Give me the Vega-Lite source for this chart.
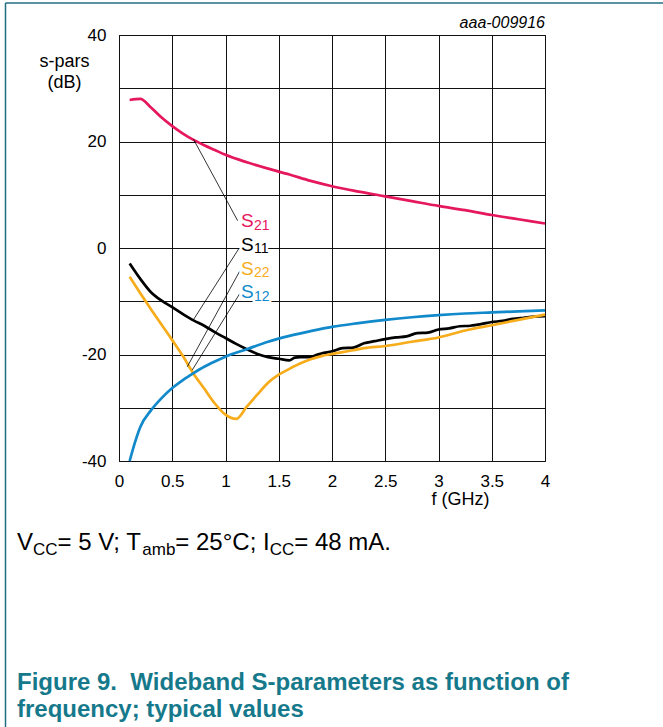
{
  "$schema": "https://vega.github.io/schema/vega-lite/v6.json",
  "width": 426,
  "height": 426,
  "autosize": {"type": "none"},
  "padding": {"left": 119, "top": 35, "right": 118, "bottom": 266},
  "background": "white",
  "config": {"font": "Liberation Sans", "view": {"stroke": "#111", "strokeWidth": 1}},
  "title": {
    "text": ["Figure 9.\u00a0 Wideband S-parameters as function of", "frequency; typical values"],
    "orient": "bottom",
    "anchor": "start",
    "frame": "group",
    "dx": -102,
    "offset": -38,
    "baseline": "alphabetic",
    "fontSize": 24,
    "fontWeight": "bold",
    "color": "#16798b",
    "lineHeight": 27
  },
  "datasets": {
    "curves": [
      {"series": "S21", "f": 0.1, "dB": 27.8}, {"series": "S21", "f": 0.2, "dB": 28.0}, {"series": "S21", "f": 0.3, "dB": 26.4},
      {"series": "S21", "f": 0.4, "dB": 24.5}, {"series": "S21", "f": 0.5, "dB": 22.9}, {"series": "S21", "f": 0.6, "dB": 21.5},
      {"series": "S21", "f": 0.7, "dB": 20.3}, {"series": "S21", "f": 0.8, "dB": 19.3}, {"series": "S21", "f": 0.9, "dB": 18.4},
      {"series": "S21", "f": 1.0, "dB": 17.5}, {"series": "S21", "f": 1.2, "dB": 16.1}, {"series": "S21", "f": 1.4, "dB": 14.9},
      {"series": "S21", "f": 1.6, "dB": 13.8}, {"series": "S21", "f": 1.8, "dB": 12.6}, {"series": "S21", "f": 2.0, "dB": 11.6},
      {"series": "S21", "f": 2.25, "dB": 10.6}, {"series": "S21", "f": 2.5, "dB": 9.7}, {"series": "S21", "f": 2.75, "dB": 8.8},
      {"series": "S21", "f": 3.0, "dB": 7.9}, {"series": "S21", "f": 3.25, "dB": 7.1}, {"series": "S21", "f": 3.5, "dB": 6.2},
      {"series": "S21", "f": 3.75, "dB": 5.4}, {"series": "S21", "f": 4.0, "dB": 4.6},

      {"series": "S11", "f": 0.1, "dB": -2.9}, {"series": "S11", "f": 0.2, "dB": -5.8}, {"series": "S11", "f": 0.3, "dB": -8.3},
      {"series": "S11", "f": 0.4, "dB": -9.9}, {"series": "S11", "f": 0.5, "dB": -11.1}, {"series": "S11", "f": 0.6, "dB": -12.4},
      {"series": "S11", "f": 0.7, "dB": -13.6}, {"series": "S11", "f": 0.8, "dB": -14.6}, {"series": "S11", "f": 0.9, "dB": -15.8},
      {"series": "S11", "f": 1.0, "dB": -16.9}, {"series": "S11", "f": 1.1, "dB": -18.0}, {"series": "S11", "f": 1.2, "dB": -19.0},
      {"series": "S11", "f": 1.3, "dB": -19.9}, {"series": "S11", "f": 1.4, "dB": -20.5}, {"series": "S11", "f": 1.5, "dB": -20.8},
      {"series": "S11", "f": 1.6, "dB": -21.1}, {"series": "S11", "f": 1.65, "dB": -20.6}, {"series": "S11", "f": 1.7, "dB": -20.5},
      {"series": "S11", "f": 1.8, "dB": -20.5}, {"series": "S11", "f": 1.85, "dB": -20.1}, {"series": "S11", "f": 1.9, "dB": -19.8},
      {"series": "S11", "f": 2.0, "dB": -19.4}, {"series": "S11", "f": 2.1, "dB": -18.8}, {"series": "S11", "f": 2.2, "dB": -18.7},
      {"series": "S11", "f": 2.3, "dB": -17.9}, {"series": "S11", "f": 2.4, "dB": -17.5}, {"series": "S11", "f": 2.5, "dB": -17.1},
      {"series": "S11", "f": 2.6, "dB": -16.8}, {"series": "S11", "f": 2.7, "dB": -16.6}, {"series": "S11", "f": 2.8, "dB": -16.0},
      {"series": "S11", "f": 2.9, "dB": -15.9}, {"series": "S11", "f": 3.0, "dB": -15.3}, {"series": "S11", "f": 3.1, "dB": -15.1},
      {"series": "S11", "f": 3.2, "dB": -14.7}, {"series": "S11", "f": 3.3, "dB": -14.6}, {"series": "S11", "f": 3.4, "dB": -14.3},
      {"series": "S11", "f": 3.5, "dB": -13.9}, {"series": "S11", "f": 3.6, "dB": -13.7}, {"series": "S11", "f": 3.7, "dB": -13.3},
      {"series": "S11", "f": 3.8, "dB": -13.1}, {"series": "S11", "f": 3.9, "dB": -12.9}, {"series": "S11", "f": 4.0, "dB": -12.8},

      {"series": "S22", "f": 0.1, "dB": -5.4}, {"series": "S22", "f": 0.2, "dB": -8.5}, {"series": "S22", "f": 0.3, "dB": -11.5},
      {"series": "S22", "f": 0.4, "dB": -14.4}, {"series": "S22", "f": 0.5, "dB": -17.3}, {"series": "S22", "f": 0.6, "dB": -20.3},
      {"series": "S22", "f": 0.7, "dB": -23.6}, {"series": "S22", "f": 0.8, "dB": -26.4}, {"series": "S22", "f": 0.9, "dB": -29.2},
      {"series": "S22", "f": 1.0, "dB": -31.3}, {"series": "S22", "f": 1.1, "dB": -32.1}, {"series": "S22", "f": 1.2, "dB": -29.8},
      {"series": "S22", "f": 1.3, "dB": -27.5}, {"series": "S22", "f": 1.4, "dB": -25.3}, {"series": "S22", "f": 1.5, "dB": -23.8},
      {"series": "S22", "f": 1.6, "dB": -22.7}, {"series": "S22", "f": 1.7, "dB": -21.7}, {"series": "S22", "f": 1.8, "dB": -20.9},
      {"series": "S22", "f": 1.9, "dB": -20.3}, {"series": "S22", "f": 2.0, "dB": -19.9}, {"series": "S22", "f": 2.2, "dB": -19.2},
      {"series": "S22", "f": 2.3, "dB": -18.8}, {"series": "S22", "f": 2.5, "dB": -18.4}, {"series": "S22", "f": 2.75, "dB": -17.6},
      {"series": "S22", "f": 3.0, "dB": -16.8}, {"series": "S22", "f": 3.25, "dB": -15.5}, {"series": "S22", "f": 3.5, "dB": -14.5},
      {"series": "S22", "f": 3.75, "dB": -13.5}, {"series": "S22", "f": 4.0, "dB": -12.5},

      {"series": "S12", "f": 0.1, "dB": -40.0}, {"series": "S12", "f": 0.15, "dB": -36.5}, {"series": "S12", "f": 0.2, "dB": -33.6},
      {"series": "S12", "f": 0.3, "dB": -30.5}, {"series": "S12", "f": 0.4, "dB": -28.2}, {"series": "S12", "f": 0.5, "dB": -26.3},
      {"series": "S12", "f": 0.6, "dB": -24.8}, {"series": "S12", "f": 0.7, "dB": -23.5}, {"series": "S12", "f": 0.8, "dB": -22.3},
      {"series": "S12", "f": 0.9, "dB": -21.3}, {"series": "S12", "f": 1.0, "dB": -20.4}, {"series": "S12", "f": 1.2, "dB": -19.0},
      {"series": "S12", "f": 1.4, "dB": -17.6}, {"series": "S12", "f": 1.6, "dB": -16.5}, {"series": "S12", "f": 1.8, "dB": -15.6},
      {"series": "S12", "f": 2.0, "dB": -14.8}, {"series": "S12", "f": 2.25, "dB": -14.1}, {"series": "S12", "f": 2.5, "dB": -13.5},
      {"series": "S12", "f": 2.75, "dB": -13.0}, {"series": "S12", "f": 3.0, "dB": -12.6}, {"series": "S12", "f": 3.25, "dB": -12.3},
      {"series": "S12", "f": 3.5, "dB": -12.1}, {"series": "S12", "f": 3.75, "dB": -11.9}, {"series": "S12", "f": 4.0, "dB": -11.7}
    ],
    "leaders": [
      {"series": "S21", "f": 0.70, "dB": 20.4, "f2": 1.114, "dB2": 5.13},
      {"series": "S11", "f": 0.698, "dB": -13.5, "f2": 1.127, "dB2": -0.06},
      {"series": "S22", "f": 0.641, "dB": -22.3, "f2": 1.136, "dB2": -4.26},
      {"series": "S12", "f": 0.688, "dB": -22.9, "f2": 1.136, "dB2": -8.5}
    ],
    "labels": [
      {"series": "S21", "sub": "21", "f": 1.1455, "dB": 3.89},
      {"series": "S11", "sub": "11", "f": 1.1455, "dB": -0.56},
      {"series": "S22", "sub": "22", "f": 1.1455, "dB": -5.07},
      {"series": "S12", "sub": "12", "f": 1.1455, "dB": -9.45}
    ],
    "capMain": [
      {"t": "V", "f": -0.9577, "dB": -56.71},
      {"t": "= 5 V; T", "f": -0.5770, "dB": -56.71},
      {"t": "= 25°C; I", "f": 0.5290, "dB": -56.71},
      {"t": "= 48 mA.", "f": 1.6452, "dB": -56.71}
    ],
    "capSub": [
      {"t": "CC", "f": -0.8075, "dB": -57.65},
      {"t": "amb", "f": 0.2185, "dB": -57.65},
      {"t": "CC", "f": 1.4147, "dB": -57.65}
    ],
    "tag": [{"t": "aaa-009916", "f": 4.0, "dB": 41.26}],
    "one": [{}]
  },
  "layer": [
    {
      "data": {"name": "curves"},
      "mark": {"type": "line", "strokeWidth": 2.7, "interpolate": "monotone"},
      "encoding": {
        "x": {
          "field": "f", "type": "quantitative",
          "scale": {"domain": [0, 4], "nice": false, "zero": false},
          "axis": {
            "title": "f (GHz)",
            "values": [0, 0.5, 1, 1.5, 2, 2.5, 3, 3.5, 4],
            "labelExpr": "'' + datum.value",
            "labelFlush": false,
            "labelBaseline": "alphabetic",
            "labelPadding": 25,
            "labelFontSize": 17,
            "labelColor": "#000",
            "ticks": false, "tickSize": 0, "domain": false,
            "grid": true, "gridColor": "#111", "gridOpacity": 1, "gridWidth": 1,
            "titleX": 341, "titleY": 43, "titleAlign": "center", "titleBaseline": "alphabetic",
            "titleFontSize": 18, "titleFontWeight": "normal", "titleColor": "#000"
          }
        },
        "y": {
          "field": "dB", "type": "quantitative",
          "scale": {"domain": [-40, 40], "nice": false, "zero": false},
          "axis": {
            "title": ["s-pars", "(dB)"],
            "values": [-40, -35, -30, -25, -20, -15, -10, -5, 0, 5, 10, 15, 20, 25, 30, 35, 40],
            "labelExpr": "datum.value % 20 === 0 ? '' + datum.value : ''",
            "labelFontSize": 17,
            "labelColor": "#000",
            "labelPadding": 13,
            "ticks": false, "tickSize": 0, "domain": false,
            "grid": true, "gridColor": "#111", "gridOpacity": 1, "gridWidth": 1,
            "titleAngle": 0, "titleAlign": "center", "titleBaseline": "alphabetic",
            "titleX": -55, "titleY": 31, "titleFontSize": 18, "titleFontWeight": "normal",
            "titleColor": "#000", "titleLineHeight": 21
          }
        },
        "color": {
          "field": "series", "type": "nominal",
          "scale": {"domain": ["S21", "S11", "S22", "S12"], "range": ["#e5185d", "#000000", "#f6ac1b", "#1189ca"]},
          "legend": null
        }
      }
    },
    {
      "data": {"name": "leaders"},
      "mark": {"type": "rule", "color": "#000", "strokeWidth": 0.8},
      "encoding": {
        "x": {"field": "f", "type": "quantitative"},
        "y": {"field": "dB", "type": "quantitative"},
        "x2": {"field": "f2"},
        "y2": {"field": "dB2"}
      }
    },
    {
      "data": {"name": "labels"},
      "mark": {"type": "text", "text": "S", "align": "left", "baseline": "alphabetic", "fontSize": 19, "fill": "white", "stroke": "white", "strokeWidth": 5},
      "encoding": {
        "x": {"field": "f", "type": "quantitative"},
        "y": {"field": "dB", "type": "quantitative"}
      }
    },
    {
      "data": {"name": "labels"},
      "mark": {"type": "text", "align": "left", "baseline": "alphabetic", "fontSize": 14, "dx": 13, "dy": 2.5, "fill": "white", "stroke": "white", "strokeWidth": 5},
      "encoding": {
        "x": {"field": "f", "type": "quantitative"},
        "y": {"field": "dB", "type": "quantitative"},
        "text": {"field": "sub"}
      }
    },
    {
      "data": {"name": "labels"},
      "mark": {"type": "text", "text": "S", "align": "left", "baseline": "alphabetic", "fontSize": 19},
      "encoding": {
        "x": {"field": "f", "type": "quantitative"},
        "y": {"field": "dB", "type": "quantitative"},
        "color": {"field": "series", "type": "nominal", "legend": null}
      }
    },
    {
      "data": {"name": "labels"},
      "mark": {"type": "text", "align": "left", "baseline": "alphabetic", "fontSize": 14, "dx": 13, "dy": 2.5},
      "encoding": {
        "x": {"field": "f", "type": "quantitative"},
        "y": {"field": "dB", "type": "quantitative"},
        "text": {"field": "sub"},
        "color": {"field": "series", "type": "nominal", "legend": null}
      }
    },
    {
      "data": {"name": "tag"},
      "mark": {"type": "text", "align": "right", "baseline": "alphabetic", "fontSize": 16, "fontStyle": "italic", "color": "#000"},
      "encoding": {
        "x": {"field": "f", "type": "quantitative"},
        "y": {"field": "dB", "type": "quantitative"},
        "text": {"field": "t"}
      }
    },
    {
      "data": {"name": "capMain"},
      "mark": {"type": "text", "align": "left", "baseline": "alphabetic", "fontSize": 24, "color": "#000"},
      "encoding": {
        "x": {"field": "f", "type": "quantitative"},
        "y": {"field": "dB", "type": "quantitative"},
        "text": {"field": "t"}
      }
    },
    {
      "data": {"name": "capSub"},
      "mark": {"type": "text", "align": "left", "baseline": "alphabetic", "fontSize": 17, "color": "#000"},
      "encoding": {
        "x": {"field": "f", "type": "quantitative"},
        "y": {"field": "dB", "type": "quantitative"},
        "text": {"field": "t"}
      }
    },
    {
      "data": {"name": "one"},
      "mark": {"type": "rule", "color": "#1f6f80", "strokeWidth": 1.5},
      "encoding": {
        "x": {"datum": -1.0657, "type": "quantitative"},
        "y": {"datum": 46.0, "type": "quantitative"},
        "y2": {"datum": -90.0}
      }
    },
    {
      "data": {"name": "one"},
      "mark": {"type": "rule", "color": "#1f6f80", "strokeWidth": 1.5},
      "encoding": {
        "x": {"datum": -1.0657, "type": "quantitative"},
        "x2": {"datum": 5.2},
        "y": {"datum": 46.0, "type": "quantitative"}
      }
    }
  ]
}
